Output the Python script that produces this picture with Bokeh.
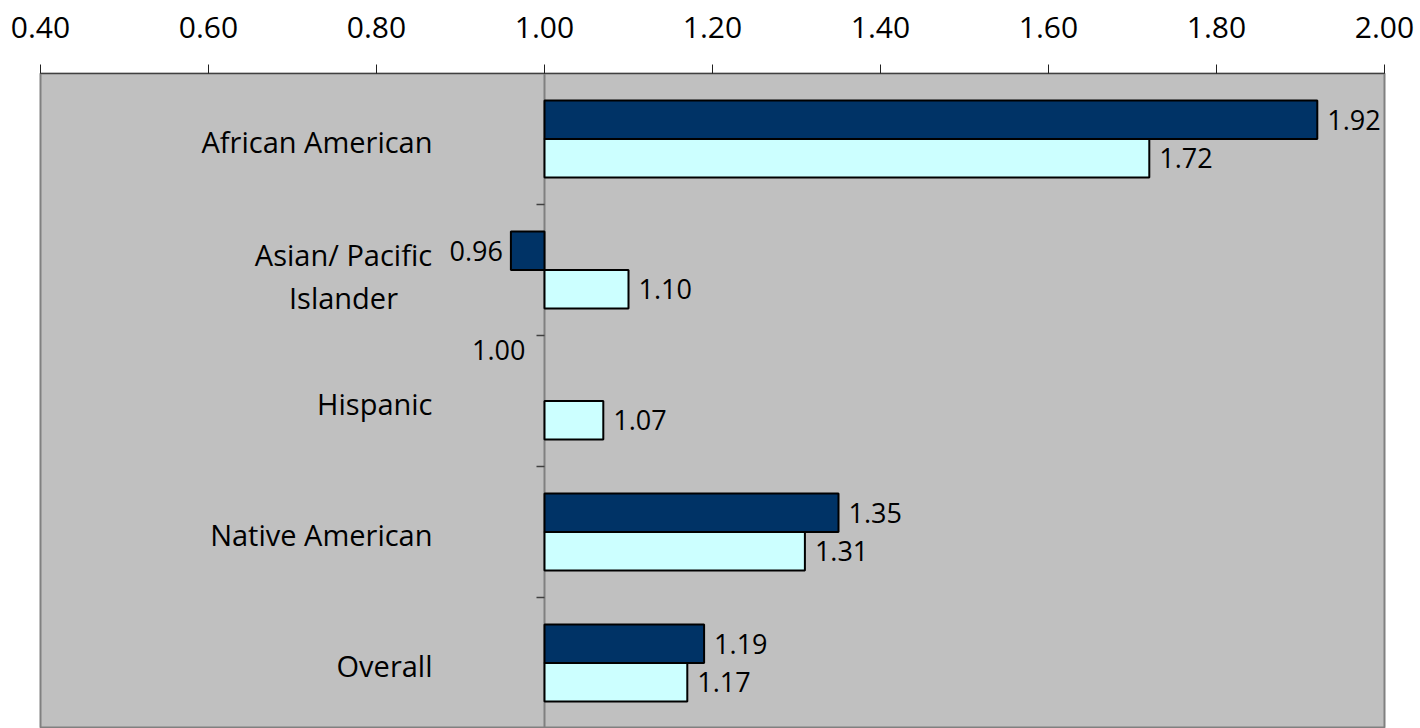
from bokeh.plotting import figure
from bokeh.models import Range1d, FixedTicker, NumeralTickFormatter, Span, ColumnDataSource
from bokeh.core.properties import value
from bokeh.embed import file_html
from bokeh.resources import INLINE

# Rate ratios by group (reference value = 1.00)
categories = ["African American", "Asian/ Pacific\nIslander", "Hispanic", "Native American", "Overall"]
series_a = [1.92, 0.96, 1.00, 1.35, 1.19]
series_b = [1.72, 1.10, 1.07, 1.31, 1.17]
x_ticks = [0.40, 0.60, 0.80, 1.00, 1.20, 1.40, 1.60, 1.80, 2.00]

BASE = 1.0
FONT = "Open Sans"
BAR_H = 0.294

p = figure(width=1420, height=728, output_backend="svg", toolbar_location=None,
           x_range=Range1d(0.40, 2.00), y_range=Range1d(5, 0),
           x_axis_location="above", y_axis_location=None,
           min_border_left=40, min_border_right=36, min_border_top=73, min_border_bottom=0)
p.background_fill_color = "#C0C0C0"
p.border_fill_color = "white"
p.outline_line_color = "#808080"
p.outline_line_width = 2
p.xgrid.visible = False
p.ygrid.visible = False

ax = p.xaxis[0]
ax.ticker = FixedTicker(ticks=x_ticks)
ax.formatter = NumeralTickFormatter(format="0.00")
ax.axis_line_color = "#404040"
ax.axis_line_width = 1
ax.major_tick_line_color = "#202020"
ax.major_tick_in = 0
ax.major_tick_out = 9
ax.minor_tick_line_color = None
ax.major_label_text_font = FONT
ax.major_label_text_font_size = "30px"
ax.major_label_text_color = "black"
ax.major_label_standoff = 27

# category axis drawn at the base value
p.add_layout(Span(location=BASE, dimension="height", line_color="#808080",
                  line_width=2, level="underlay"))
p.ray(x=[BASE] * 4, y=[1, 2, 3, 4], length=8, length_units="screen",
      angle=3.14159265, line_color="#404040", line_width=1.5)

centers = [i + 0.5 for i in range(len(categories))]
ya = [c - BAR_H / 2 for c in centers]
yb = [c + BAR_H / 2 for c in centers]


def bar_source(vals, ys):
    # a bar with no length shows no outline
    return ColumnDataSource(dict(y=ys, left=[BASE] * len(vals), right=vals,
                                 la=[0.0 if v == BASE else 1.0 for v in vals]))


p.hbar(y="y", left="left", right="right", height=BAR_H, source=bar_source(series_a, ya),
       fill_color="#003366", line_color="black", line_width=2, line_alpha="la")
p.hbar(y="y", left="left", right="right", height=BAR_H, source=bar_source(series_b, yb),
       fill_color="#CCFFFF", line_color="black", line_width=2, line_alpha="la")

# value labels
lab_x, lab_y, lab_t, lab_al, lab_dx, lab_dy = [], [], [], [], [], []
for vals, ys in ((series_a, ya), (series_b, yb)):
    for v, y in zip(vals, ys):
        lab_x.append(v)
        lab_y.append(y)
        lab_t.append(f"{v:.2f}")
        if v > BASE:
            lab_al.append("left"); lab_dx.append(10); lab_dy.append(0)
        elif v < BASE:
            lab_al.append("right"); lab_dx.append(-8); lab_dy.append(0)
        else:
            lab_al.append("right"); lab_dx.append(-19); lab_dy.append(-32)
p.text(x="x", y="y", text="t", text_align="al", x_offset="dx", y_offset="dy",
       source=ColumnDataSource(dict(x=lab_x, y=lab_y, t=lab_t, al=lab_al, dx=lab_dx, dy=lab_dy)),
       text_baseline="middle", text_font=value(FONT), text_font_size="27px",
       text_color="black")

# category labels: single lines end at the label edge, wrapped ones are centred
single = [i for i, c in enumerate(categories) if "\n" not in c]
wrapped = [i for i, c in enumerate(categories) if "\n" in c]
p.text(x=[BASE] * len(single), y=[centers[i] for i in single],
       text=[categories[i] for i in single], text_align="right",
       text_baseline="middle", x_offset=-112, y_offset=2, text_font=value(FONT),
       text_font_size="29px", text_color="black")
p.text(x=[BASE] * len(wrapped), y=[centers[i] for i in wrapped],
       text=[categories[i] for i in wrapped], text_align="center",
       text_baseline="middle", x_offset=-201, y_offset=6, text_font=value(FONT),
       text_font_size="29px", text_color="black", text_line_height=1.1)

open("out.html", "w").write(file_html(p, INLINE))
